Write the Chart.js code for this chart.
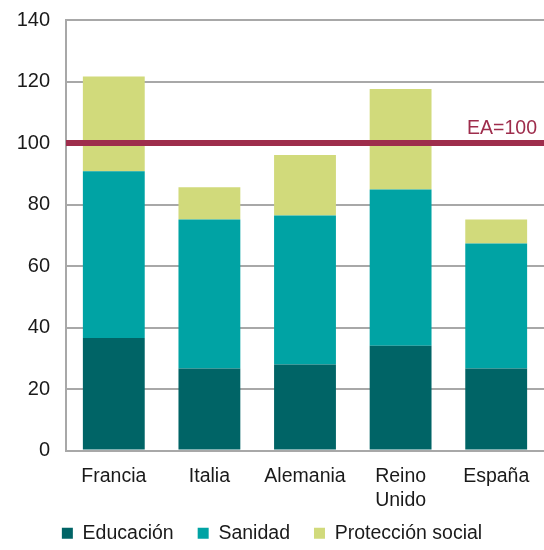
<!DOCTYPE html>
<html>
<head>
<meta charset="utf-8">
<script src="https://cdn.jsdelivr.net/npm/chart.js@4/dist/chart.umd.min.js"></script>
<style>
	html, body { margin: 0; padding: 0; background: #fff; }
	#wrap { width: 544px; height: 550px; }
</style>
</head>
<body>
<div id="wrap"><canvas id="chart-canvas"></canvas></div>
<script>
'use strict';

var COUNTRIES 	= ['Francia', 'Italia', 'Alemania', ['Reino', 'Unido'], 'España'];
var EDUCACION 	= [36.6, 26.7, 28.0, 34.1, 26.7];
var SANIDAD 	= [54.2, 48.4, 48.4, 50.8, 40.6];
var PROTECCION 	= [30.8, 10.5, 19.7, 32.7, 7.8];
var Y_TICKS 	= [0, 20, 40, 60, 80, 100, 120, 140];
var EA_VALUE 	= 100;
var EA_LABEL 	= 'EA=100';

var FONT 		= "'Liberation Sans', Arial, sans-serif";
var GRID_COLOR 	= '#a8a8a8';
var EA_COLOR 	= '#9e2d4c';

// Linea de referencia EA=100 dibujada con la escala y
var eaLine = {
	id: 'eaLine',
	afterLayout: function(chart) {
		// que no se recorte la segunda linea de "Reino Unido"
		chart.scales.x.bottom = chart.scales.x.top + 62;
	},
	afterDatasetsDraw: function(chart) {
		var ctx = chart.ctx;
		var area = chart.chartArea;
		var y = chart.scales.y.getPixelForValue(EA_VALUE);

		ctx.save();
		ctx.fillStyle = EA_COLOR;
		ctx.fillRect(area.left, y - 3, chart.width - area.left, 6);

		ctx.font = '19.5px ' + FONT;
		ctx.textAlign = 'right';
		ctx.textBaseline = 'alphabetic';
		ctx.fillText(EA_LABEL, chart.width - 7, y - 9);
		ctx.restore();
	}
};

var ctx = document.getElementById('chart-canvas');

var myChart = new Chart(ctx, {
	type: 'bar',
	data: {
		labels: COUNTRIES,
		datasets: [
			{ label: 'Educación', data: EDUCACION, backgroundColor: '#006466' },
			{ label: 'Sanidad', data: SANIDAD, backgroundColor: '#00a3a4' },
			{ label: 'Protección social', data: PROTECCION, backgroundColor: '#d1da7b' }
		]
	},
	options: {
		responsive: true,
		maintainAspectRatio: false,
		animation: false,
		layout: { padding: { top: 20, right: 0, left: 0, bottom: -3 } },
		datasets: {
			bar: { categoryPercentage: 1, barPercentage: 0.647, borderWidth: 0 }
		},
		plugins: {
			legend: {
				position: 'bottom',
				labels: {
					color: '#1a1a1a',
					font: { family: FONT, size: 19.5 },
					boxWidth: 11,
					boxHeight: 11,
					padding: 24
				}
			},
			tooltip: { enabled: false }
		},
		scales: {
			x: {
				stacked: true,
				grid: { display: false, drawTicks: false },
				border: { color: GRID_COLOR, width: 2 },
				ticks: {
					color: '#1a1a1a',
					font: { family: FONT, size: 19.5, lineHeight: 1.23 },
					padding: 14,
					maxRotation: 0,
					autoSkip: false
				},
				afterFit: function(scale) { scale.height = 49; }
			},
			y: {
				stacked: true,
				min: 0,
				max: 140,
				afterBuildTicks: function(scale) {
					scale.ticks = Y_TICKS.map(function(v) { return { value: v }; });
				},
				grid: { color: GRID_COLOR, lineWidth: 2, drawTicks: false },
				border: { color: GRID_COLOR, width: 2 },
				ticks: {
					color: '#1a1a1a',
					font: { family: FONT, size: 20 },
					padding: 16
				},
				afterFit: function(scale) {
					scale.width = 66;
					scale.paddingTop = 0;
					scale.paddingBottom = 0;
				}
			}
		}
	},
	plugins: [eaLine]
});
</script>
</body>
</html>
